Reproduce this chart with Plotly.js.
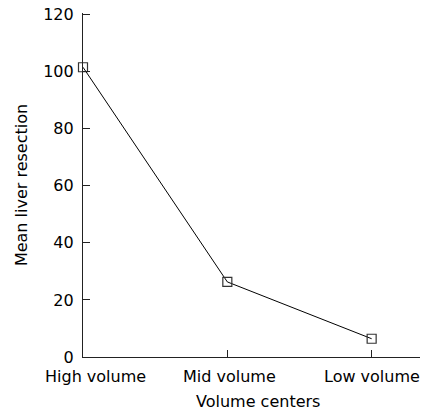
<!DOCTYPE html>
<html>
<head>
<meta charset="utf-8">
<script src="https://cdn.plot.ly/plotly-3.0.1.min.js"></script>
<style>html,body{margin:0;padding:0;background:#fff;}#chart{width:421px;height:416px;}</style>
</head>
<body>
<div id="chart"></div>
<script>
var categories = ["High volume", "Mid volume", "Low volume"];
var meanResection = [101.5, 26.3, 6.4];
var yTickVals = [0, 20, 40, 60, 80, 100, 120];
var yTickText = ["0", "20", "40", "60", "80", "100", "120"];
var xTitle = "Volume centers";
var yTitle = "Mean liver resection";

var FONT = "DejaVu Sans, Verdana, sans-serif";
var xIdx = categories.map(function (c, i) { return i; });

var trace = {
  x: xIdx,
  y: meanResection,
  type: "scatter",
  mode: "lines+markers",
  line: { color: "#000", width: 1 },
  marker: { symbol: "square-open", size: 9, color: "#333", line: { width: 1.2, color: "#333" } },
  cliponaxis: false,
  hoverinfo: "skip"
};

var labelShift = [12, 2, 0];
var annotations = categories.map(function (c, i) {
  return {
    x: i, xref: "x", y: 0, yref: "paper",
    text: c, showarrow: false,
    xanchor: "center", yanchor: "top",
    xshift: labelShift[i], yshift: -8,
    font: { family: FONT, size: 16, color: "#000" }
  };
});
annotations.push({
  x: 0.518, xref: "paper", y: 0, yref: "paper",
  text: xTitle, showarrow: false,
  xanchor: "center", yanchor: "top", yshift: -33,
  font: { family: FONT, size: 16, color: "#000" }
});

var layout = {
  width: 421, height: 416,
  margin: { l: 83, r: 1, t: 13.1, b: 58.5 },
  paper_bgcolor: "#fff", plot_bgcolor: "#fff",
  showlegend: false,
  font: { family: FONT, size: 16, color: "#000" },
  xaxis: {
    range: [0, 2.335],
    tickvals: xIdx,
    showticklabels: false,
    ticks: "inside", ticklen: 7, tickcolor: "#222", tickwidth: 1,
    showline: true, linecolor: "#222", linewidth: 1,
    showgrid: false, zeroline: false,
    automargin: false
  },
  yaxis: {
    range: [0, 120.5],
    tickmode: "array",
    tickvals: yTickVals,
    ticktext: yTickText.map(function (t) { return t + "\u00a0"; }),
    ticks: "inside", ticklen: 7, tickcolor: "#222", tickwidth: 1,
    showline: true, linecolor: "#222", linewidth: 1,
    showgrid: false, zeroline: false,
    tickfont: { family: FONT, size: 16, color: "#000" },
    title: { text: yTitle, font: { family: FONT, size: 16, color: "#000" }, standoff: 11 },
    automargin: false
  },
  annotations: annotations
};

Plotly.newPlot("chart", [trace], layout, { staticPlot: true, displayModeBar: false });
</script>
</body>
</html>
